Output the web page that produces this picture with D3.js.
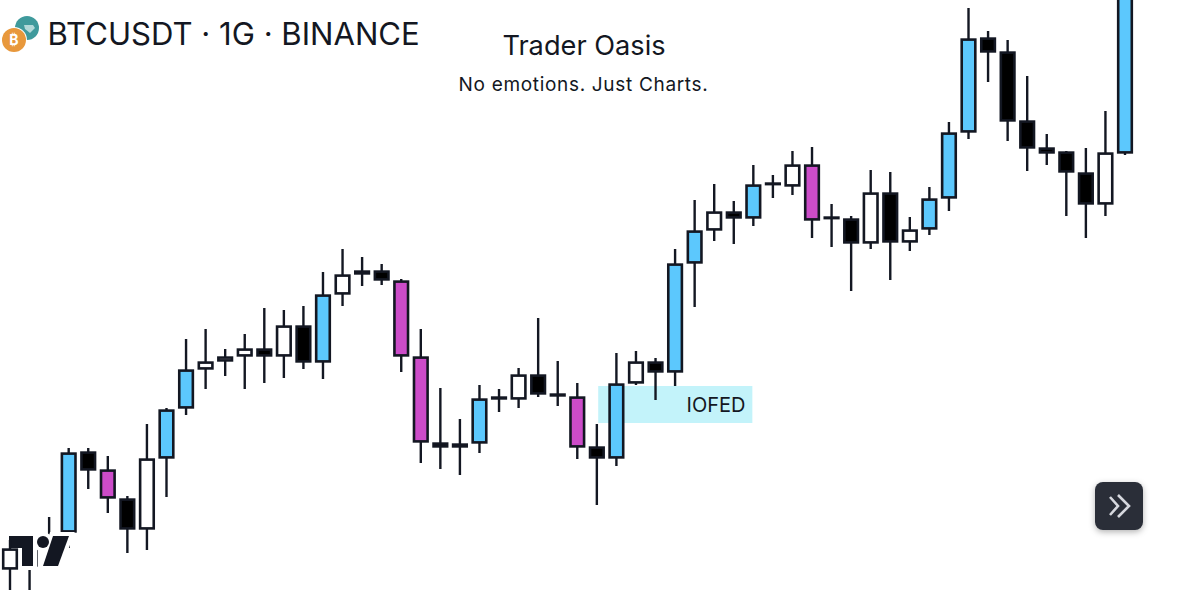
<!DOCTYPE html>
<html><head><meta charset="utf-8">
<script src="https://cdn.jsdelivr.net/npm/d3@7"></script>
<style>html,body{margin:0;padding:0;background:#fff;overflow:hidden}svg{display:block}text{font-family:Inter,"Noto Sans",sans-serif}</style>
</head><body><div id="chart"></div>
<script>
const titleText = "BTCUSDT · 1G · BINANCE";
const headline = "Trader Oasis";
const subline = "No emotions. Just Charts.";
const zoneLabel = "IOFED";
// values in chart units (height above the bottom edge of the picture)
const bodyTop = [41,45,54,137,138,120,91,131,180,220,228,233,241,241,264,264,295,315,319,319,309,233,147,146,191,193,215,215,196,193,143,206,228,228,326,359,378,378,405,407,425,425,373,371,397,397,360,391,457,551,552,538,469,442,438,417,437,595];
const bodyBottom = [21,24,50,58,120,92,61,61,132,182,221,229,234,234,234,228,228,296,316,310,234,148,143,143,147,191,191,196,194,143,132,132,207,218,218,327,360,372,372,406,404,370,372,347,347,348,348,361,392,458,538,469,442,437,418,386,386,437];
const wickHigh = [50,50,73,142,142,134,94,166,182,251,261,241,256,282,280,284,318,341,333,326,311,261,202,171,205,201,222,272,229,207,166,237,239,232,341,390,406,389,425,415,439,443,386,374,420,418,373,403,468,582,559,550,514,456,439,442,479,600];
const wickLow = [-5,-5,50,42,101,77,37,40,93,175,201,214,201,207,212,221,211,284,304,305,218,127,121,115,137,178,182,193,184,131,85,124,205,190,204,283,349,346,364,392,395,352,343,299,341,310,339,355,379,451,508,449,419,425,374,352,374,435];
const kinds = ["w","k","k","b","k","m","k","w","b","b","w","w","w","k","w","k","b","w","k","k","m","m","k","w","b","k","w","k","k","m","k","b","w","k","b","b","w","k","b","k","w","m","k","k","w","k","w","b","b","b","k","k","k","k","k","k","w","b"];
const zone = {from: 30.07, to: 37.95, top: 204, bottom: 167};

const W = 1179, H = 590, STROKE = "#131722";
const fills = {w:"#ffffff", k:"#000000", b:"#5CC8FD", m:"#CC4CC9"};
const x = d3.scaleLinear().domain([0, kinds.length - 1]).range([10, 1125]);
const y = d3.scaleLinear().domain([0, H]).range([H, 0]);
const data = kinds.map((k, i) => ({i, k, t: bodyTop[i], b: bodyBottom[i], h: wickHigh[i], l: wickLow[i]}));

const svg = d3.select("#chart").append("svg").attr("width", W).attr("height", H);
const defs = svg.append("defs");
const f = defs.append("filter").attr("id","sh").attr("x","-30%").attr("y","-30%").attr("width","160%").attr("height","160%");
f.append("feDropShadow").attr("dx",0).attr("dy",2).attr("stdDeviation",3).attr("flood-color","#000").attr("flood-opacity",0.3);

// zone
svg.append("rect").attr("x", x(zone.from)).attr("width", x(zone.to) - x(zone.from))
  .attr("y", y(zone.top)).attr("height", y(zone.bottom) - y(zone.top)).attr("fill", "#C3F3FA");
svg.append("text").attr("x", 745.5).attr("y", 412).attr("text-anchor","end")
  .attr("font-size", 20).attr("fill","#131722").text(zoneLabel);

function drawCandles(sel, rows){
  const g = sel.selectAll("g.c").data(rows).join("g").attr("class","c");
  g.append("line").attr("x1", d => x(d.i)).attr("x2", d => x(d.i))
    .attr("y1", d => y(d.h)).attr("y2", d => y(d.l))
    .attr("stroke", STROKE).attr("stroke-width", 2.4);
  g.append("rect").attr("x", d => x(d.i) - 6.8).attr("width", 13.6)
    .attr("y", d => y(d.t) + 0.6)
    .attr("height", d => Math.max(0.5, y(d.b) - y(d.t) - 1.2))
    .attr("fill", d => fills[d.k]).attr("stroke", STROKE).attr("stroke-width", 2.6);
}
drawCandles(svg.append("g"), data.filter(d => d.i !== 0));

// TradingView logo with its white halo
const logoShapes = g => {
  g.append("path").attr("d","M9 536H33V566H22V548H9Z");
  g.append("circle").attr("cx",43).attr("cy",542).attr("r",6);
  g.append("path").attr("d","M53 536H69L58 566H43Z");
};
svg.append("g").attr("fill","#fff").attr("stroke","#fff").attr("stroke-width",8).call(logoShapes);
svg.append("g").attr("fill","#131722").call(logoShapes);
drawCandles(svg.append("g"), data.filter(d => d.i === 0));

// header
svg.append("circle").attr("cx",27).attr("cy",28).attr("r",12).attr("fill","#3F9A9C");
svg.append("path").attr("d","M24 25H33L35 28L30 33L25 29Z").attr("fill","#cfe8e8").attr("opacity",.8);
svg.append("circle").attr("cx",14).attr("cy",40).attr("r",13).attr("fill","#fff");
svg.append("circle").attr("cx",14).attr("cy",40).attr("r",12).attr("fill","#E8983C");
svg.append("text").attr("x",14).attr("y",45).attr("text-anchor","middle").attr("font-size",14).attr("font-weight",700).attr("fill","#fff").text("₿");
svg.append("text").attr("x",47.5).attr("y",45).attr("font-size",31.1).attr("fill","#131722").text(titleText);
svg.append("text").attr("x",584).attr("y",55).attr("text-anchor","middle").attr("font-size",27.2).attr("fill","#131722").text(headline);
svg.append("text").attr("x",583.5).attr("y",91).attr("text-anchor","middle").attr("font-size",19).attr("letter-spacing",0.68).attr("fill","#131722").text(subline);

// scroll button
svg.append("rect").attr("x",1095).attr("y",482).attr("width",48).attr("height",48).attr("rx",8).attr("fill","#2A2E39").attr("filter","url(#sh)");
svg.append("path").attr("d","M1110 497L1118 506L1110 515M1118 495L1129 506L1118 517").attr("fill","none").attr("stroke","#D6D8DE").attr("stroke-width",2.6);
</script></body></html>
